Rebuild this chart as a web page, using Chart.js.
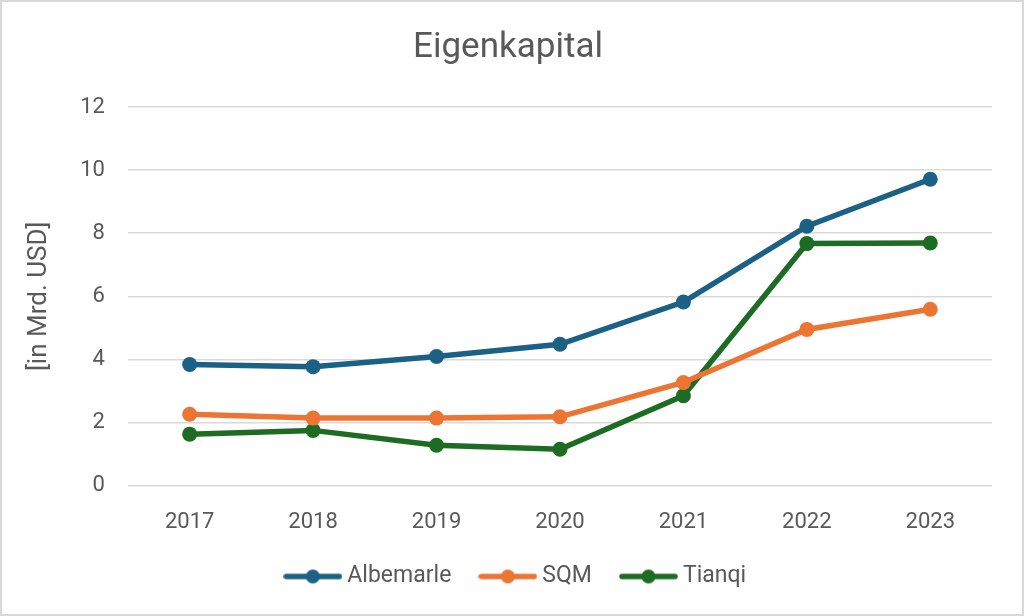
<!DOCTYPE html>
<html>
<head>
<meta charset="utf-8">
<script src="https://cdn.jsdelivr.net/npm/chart.js@4"></script>
<style>
  html, body { margin: 0; padding: 0; background: #fff; }
  #wrap { width: 1024px; height: 616px; box-sizing: border-box; border: 2px solid #d9d9d9; }
</style>
</head>
<body>
<div id="wrap"><canvas id="chart" width="1020" height="612"></canvas></div>
<script>
// data
const years = ['2017', '2018', '2019', '2020', '2021', '2022', '2023'];
const albemarle = [3.84, 3.77, 4.09, 4.48, 5.82, 8.22, 9.71];
const sqm = [2.26, 2.14, 2.14, 2.18, 3.27, 4.95, 5.59];
const tianqi = [1.63, 1.75, 1.28, 1.15, 2.85, 7.67, 7.69];

const BLUE = '#1b6185';
const ORANGE = '#ed7534';
const GREEN = '#1e6c24';
const TEXT = '#595959';
const FONT = 'Roboto';

// legend marker: line with a dot in the middle
function legendMarker(color) {
  const c = document.createElement('canvas');
  c.width = 59; c.height = 18;
  const ctx = c.getContext('2d');
  ctx.strokeStyle = color;
  ctx.lineWidth = 5.5;
  ctx.lineCap = 'round';
  ctx.beginPath();
  ctx.moveTo(3, 9); ctx.lineTo(56, 9);
  ctx.stroke();
  ctx.fillStyle = color;
  ctx.beginPath();
  ctx.arc(29.5, 9, 7, 0, Math.PI * 2);
  ctx.fill();
  return c;
}

function series(label, data, color) {
  return {
    label: label,
    data: data,
    borderColor: color,
    backgroundColor: color,
    borderWidth: 5.5,
    pointRadius: 7.5,
    pointHoverRadius: 7.5,
    pointBorderWidth: 0,
    pointStyle: 'circle',
    legendStyle: legendMarker(color),
    tension: 0
  };
}

const ds = [
  series('Albemarle', albemarle, BLUE),
  series('SQM', sqm, ORANGE),
  series('Tianqi', tianqi, GREEN)
];

// nudge the legend a little to the right so it sits under the plot centre
const shiftLegend = {
  id: 'shiftLegend',
  afterLayout(chart) {
    chart.legend.left += 10;
    chart.legend.right += 10;
  }
};

new Chart(document.getElementById('chart'), {
  type: 'line',
  data: { labels: years, datasets: ds },
  plugins: [shiftLegend],
  options: {
    responsive: false,
    animation: false,
    layout: { padding: { left: 22, right: 30, top: 14, bottom: 16 } },
    plugins: {
      title: {
        display: true,
        text: 'Eigenkapital',
        color: TEXT,
        font: { family: FONT, size: 35, weight: 'normal' },
        padding: { top: 11, bottom: 38 }
      },
      legend: {
        position: 'bottom',
        labels: {
          color: TEXT,
          font: { family: FONT, size: 23 },
          usePointStyle: true,
          pointStyleWidth: 46,
          padding: 5,
          // trailing spaces widen the gap between legend entries
          generateLabels: (chart) => chart.data.datasets.map((d, i) => ({
            text: i < chart.data.datasets.length - 1 ? d.label + '     ' : d.label,
            fontColor: TEXT,
            pointStyle: d.legendStyle,
            datasetIndex: i,
            hidden: false,
            lineWidth: 0
          }))
        }
      },
      tooltip: { enabled: false }
    },
    scales: {
      x: {
        offset: true,
        grid: { display: false, drawTicks: false },
        border: { display: false },
        ticks: { color: TEXT, font: { family: FONT, size: 22 }, padding: 24 }
      },
      y: {
        min: 0,
        max: 12,
        ticks: { stepSize: 2, color: TEXT, font: { family: FONT, size: 22 }, padding: 23 },
        grid: { color: '#d9d9d9', lineWidth: 1.5, drawTicks: false },
        border: { display: false },
        title: {
          display: true,
          text: '[in Mrd. USD]',
          color: TEXT,
          font: { family: FONT, size: 26 },
          padding: { top: 0, bottom: 2 }
        }
      }
    }
  }
});
</script>
</body>
</html>
